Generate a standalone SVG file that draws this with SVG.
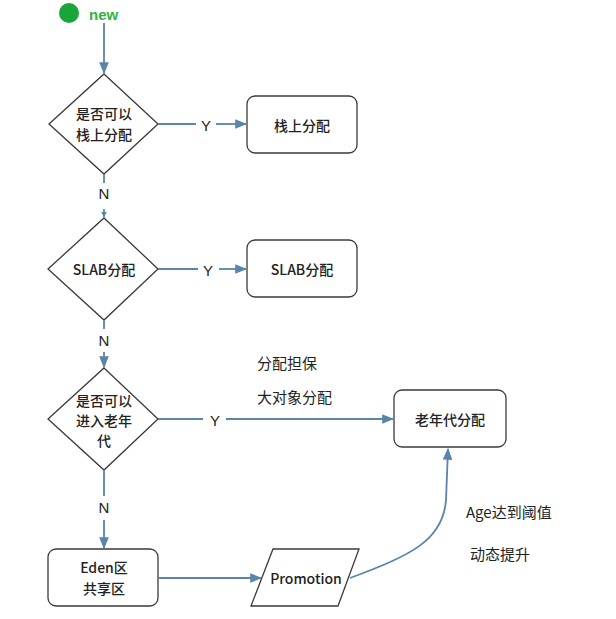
<svg xmlns="http://www.w3.org/2000/svg" width="616" height="619" viewBox="0 0 616 619">
<style>
.shape{fill:#fff;stroke:#3a3a3a;stroke-width:1.3}
.t{font-family:"Noto Sans CJK SC","Liberation Sans",sans-serif;font-size:14px;font-weight:500;fill:#222;text-anchor:middle;dominant-baseline:central}
.l{font-family:"Noto Sans CJK SC","Liberation Sans",sans-serif;font-size:15px;fill:#222;dominant-baseline:central}
.yn{font-family:"Liberation Sans",sans-serif;font-size:15px;fill:#222;text-anchor:middle;dominant-baseline:central}
.c{fill:none;stroke:#5a84a8;stroke-width:1.8}
</style>
<defs>
<marker id="a" viewBox="0 0 10 10" refX="9" refY="5" markerWidth="6" markerHeight="6" markerUnits="userSpaceOnUse" orient="auto"><path d="M0,0 L10,5 L0,10 z" fill="#5a84a8"/></marker>
<marker id="ab" viewBox="0 0 10 10" refX="9" refY="5" markerWidth="12" markerHeight="12" markerUnits="userSpaceOnUse" orient="auto"><path d="M0,1 L10,5 L0,9 z" fill="#5a84a8"/></marker>
</defs>
<rect width="616" height="619" fill="#fff"/>
<g id="start">
<circle cx="69" cy="13" r="10" fill="#1aa53a"/>
<text x="89" y="14" font-family="Liberation Sans, sans-serif" font-size="15" font-weight="bold" fill="#2fb33f" dominant-baseline="central">new</text>
</g>
<g id="d1"><polygon class="shape" points="104,74 158,124 104,174 49,124"/><text class="t" x="104" y="113">是否可以</text><text class="t" x="104" y="134">栈上分配</text></g>
<g id="b1"><rect class="shape" x="247" y="96" width="110" height="57" rx="8"/><text class="t" x="302" y="125">栈上分配</text></g>
<g id="d2"><polygon class="shape" points="104,218 158,269 104,320 48,269"/><text class="t" x="104" y="269">SLAB分配</text></g>
<g id="b2"><rect class="shape" x="247" y="240" width="110" height="57" rx="8"/><text class="t" x="302" y="269">SLAB分配</text></g>
<g id="d3"><polygon class="shape" points="104,368 158,419 104,470 48,419"/><text class="t" x="104" y="400">是否可以</text><text class="t" x="104" y="420">进入老年</text><text class="t" x="104" y="440">代</text></g>
<g id="b3"><rect class="shape" x="394" y="390" width="112" height="57" rx="8"/><text class="t" x="450" y="419">老年代分配</text></g>
<g id="eden"><rect class="shape" x="48" y="549" width="110" height="57" rx="8"/><text class="t" x="104" y="567">Eden区</text><text class="t" x="104" y="588">共享区</text></g>
<g id="promo"><polygon class="shape" points="273,549 359,549 338,606 251,606"/><text class="t" x="306" y="578">Promotion</text></g>
<g id="connectors">
<path class="c" d="M104,23 L104,73" marker-end="url(#ab)"/>
<path class="c" d="M158,124 L196,124"/>
<text class="yn" x="206" y="125">Y</text>
<path class="c" d="M216,124 L246,124" marker-end="url(#ab)"/>
<path class="c" d="M104,174 L104,183"/>
<text class="yn" x="104" y="193">N</text>
<path class="c" d="M104,209 L104,217" marker-end="url(#a)" style="stroke:#5a9a8a"/>
<path class="c" d="M158,269 L198,269"/>
<text class="yn" x="208" y="270">Y</text>
<path class="c" d="M219,269 L246,269" marker-end="url(#ab)"/>
<path class="c" d="M104,320 L104,329"/>
<text class="yn" x="104" y="340">N</text>
<path class="c" d="M104,352 L104,367" marker-end="url(#ab)"/>
<path class="c" d="M158,419 L203,419"/>
<text class="yn" x="215" y="420">Y</text>
<path class="c" d="M226,419 L393,419" marker-end="url(#ab)"/>
<path class="c" d="M104,470 L104,496"/>
<text class="yn" x="104" y="507">N</text>
<path class="c" d="M104,520 L104,548" marker-end="url(#ab)"/>
<path class="c" d="M158,578 L261,578" marker-end="url(#ab)"/>
<path class="c" d="M350,578 C412,555 443,540 446,500 L448,449" marker-end="url(#ab)"/>
</g>
<g id="labels">
<text class="l" x="257" y="362">分配担保</text>
<text class="l" x="257" y="396">大对象分配</text>
<text class="l" x="466" y="511" font-family="Liberation Sans">Age达到阈值</text>
<text class="l" x="470" y="553">动态提升</text>
</g>
</svg>
